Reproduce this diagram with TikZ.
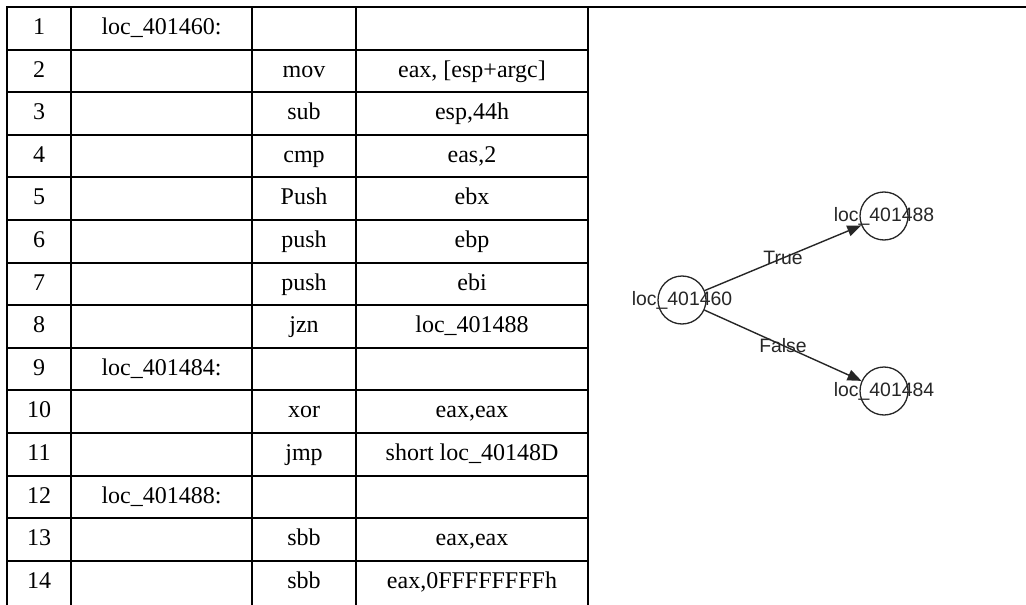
\documentclass[tikz,border=0pt]{standalone}
\usepackage{fontspec}
\setmainfont{Liberation Serif}
\newfontfamily\graphfont{Liberation Sans}
\usetikzlibrary{arrows.meta}
\begin{document}
\begin{tikzpicture}[x=0.5pt,y=-0.5pt,
  tbl/.style={line width=1pt, line cap=rect},
  cell/.style={font=\fontsize{12}{14}\selectfont, anchor=base, inner sep=0pt},
  gfont/.style={font=\graphfont\fontsize{9.7}{11}\selectfont, text=black!85},
  vertex/.style={circle, draw=black!85, line width=0.65pt, minimum size=24pt, inner sep=0pt,
    label={[gfont, inner sep=0pt]center:#1}},
  edgearrow/.style={-{Triangle[length=7pt,width=5.5pt]}, draw=black!85, line width=0.7pt},
  elabel/.style={gfont, inner sep=0pt}]
\useasboundingbox (0,0) rectangle (1026,604);
% table grid
\draw[tbl] (7,7) -- (1026,7);
\foreach \x in {7,71,252,356,588} \draw[tbl] (\x,7) -- (\x,604);
\foreach \k in {1,...,13} \draw[tbl] (7,{7+42.6*\k}) -- (588,{7+42.6*\k});
% column centers: 39, 161.5, 304, 472
\node[cell] (n1) at (39,34.5) {1};
\node[cell] (l1) at (161.5,34.5) {loc\_401460:};
\node[cell] (n2) at (39,77.1) {2};
\node[cell] (o2) at (304,77.1) {mov};
\node[cell] (a2) at (472,77.1) {eax, [esp+argc]};
\node[cell] (n3) at (39,119.7) {3};
\node[cell] (o3) at (304,119.7) {sub};
\node[cell] (a3) at (472,119.7) {esp,44h};
\node[cell] (n4) at (39,162.3) {4};
\node[cell] (o4) at (304,162.3) {cmp};
\node[cell] (a4) at (472,162.3) {eas,2};
\node[cell] (n5) at (39,204.9) {5};
\node[cell] (o5) at (304,204.9) {Push};
\node[cell] (a5) at (472,204.9) {ebx};
\node[cell] (n6) at (39,247.5) {6};
\node[cell] (o6) at (304,247.5) {push};
\node[cell] (a6) at (472,247.5) {ebp};
\node[cell] (n7) at (39,290.1) {7};
\node[cell] (o7) at (304,290.1) {push};
\node[cell] (a7) at (472,290.1) {ebi};
\node[cell] (n8) at (39,332.7) {8};
\node[cell] (o8) at (304,332.7) {jzn};
\node[cell] (a8) at (472,332.7) {loc\_401488};
\node[cell] (n9) at (39,375.3) {9};
\node[cell] (l9) at (161.5,375.3) {loc\_401484:};
\node[cell] (n10) at (39,417.9) {10};
\node[cell] (o10) at (304,417.9) {xor};
\node[cell] (a10) at (472,417.9) {eax,eax};
\node[cell] (n11) at (39,460.5) {11};
\node[cell] (o11) at (304,460.5) {jmp};
\node[cell] (a11) at (472,460.5) {short loc\_40148D};
\node[cell] (n12) at (39,503.1) {12};
\node[cell] (l12) at (161.5,503.1) {loc\_401488:};
\node[cell] (n13) at (39,545.7) {13};
\node[cell] (o13) at (304,545.7) {sbb};
\node[cell] (a13) at (472,545.7) {eax,eax};
\node[cell] (n14) at (39,588.3) {14};
\node[cell] (o14) at (304,588.3) {sbb};
\node[cell] (a14) at (472,588.3) {eax,0FFFFFFFFh};
% graph
\node[vertex={loc\_401460}] (g60) at (682,300) {};
\node[vertex={loc\_401488}] (g88) at (884,216) {};
\node[vertex={loc\_401484}] (g84) at (884,391) {};
\draw[edgearrow] (g60) -- node[elabel] (lt) {True} (g88);
\draw[edgearrow] (g60) -- node[elabel] (lf) {False} (g84);
\end{tikzpicture}
\end{document}
